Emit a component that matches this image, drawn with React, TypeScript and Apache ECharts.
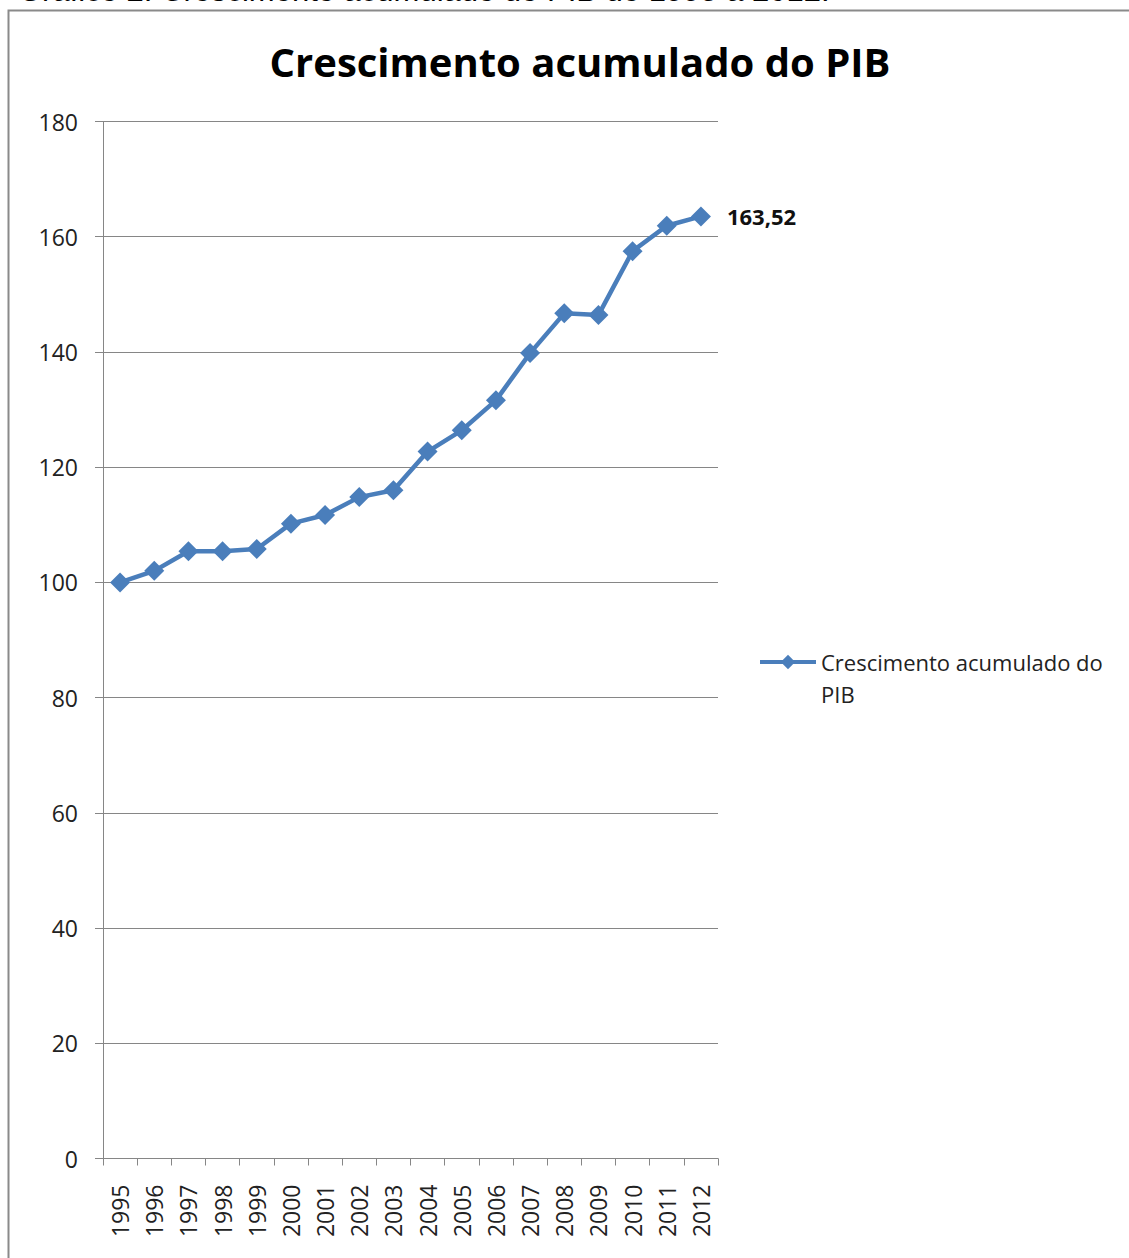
import React, { useEffect, useRef } from "react";
import * as echarts from "echarts";

const years = ["1995","1996","1997","1998","1999","2000","2001","2002","2003","2004","2005","2006","2007","2008","2009","2010","2011","2012"];
const pib = [100, 102.0, 105.4, 105.4, 105.8, 110.2, 111.7, 114.8, 116.0, 122.7, 126.4, 131.6, 139.8, 146.7, 146.4, 157.5, 161.9, 163.52];
const seriesName = "Crescimento acumulado do PIB";
const chartTitle = "Crescimento acumulado do PIB";
const caption = "Gráfico 2: Crescimento acumulado do PIB de 1995 a 2012.";

export default function App() {
  const ref = useRef<HTMLDivElement>(null);
  useEffect(() => {
    if (!ref.current) return;
    const chart = echarts.init(ref.current, null, { renderer: "svg" });
    const lastIdx = pib.length - 1;
    chart.setOption({
      animation: false,
      backgroundColor: "#ffffff",
      title: {
        text: chartTitle,
        left: 575,
        top: 36,
        textAlign: "center",
        textStyle: { fontFamily: "Open Sans", fontSize: 40, fontWeight: "bold", color: "#000" },
      },
      graphic: [
        {
          type: "text",
          x: 18,
          y: 5.5,
          style: {
            text: caption,
            fontFamily: "Liberation Sans",
            fontSize: 31,
            fill: "#000",
            verticalAlign: "bottom",
          },
        },
        {
          type: "rect",
          shape: { x: 8.5, y: 10.5, width: 1200, height: 1300 },
          style: { fill: "none", stroke: "#8a8a8a", lineWidth: 2 },
          z: 10,
        },
      ],
      legend: {
        left: 753,
        top: 609,
        orient: "vertical",
        itemWidth: 56,
        itemHeight: 18,
        itemGap: 0,
        lineStyle: { width: 4, color: "#4a7ebb" },
        itemStyle: { color: "#4a7ebb" },
        formatter: () => "\nCrescimento acumulado do\nPIB",
        textStyle: { fontFamily: "Open Sans", fontSize: 22, color: "#222", lineHeight: 32 },
        data: [seriesName],
      },
      grid: { left: 103, right: 411, top: 121.5, bottom: 99.5, containLabel: false },
      xAxis: {
        type: "category",
        data: years,
        boundaryGap: true,
        axisLine: { lineStyle: { color: "#868686", width: 1 } },
        axisTick: { show: true, alignWithLabel: false, length: 7, lineStyle: { color: "#868686" } },
        axisLabel: {
          rotate: 90,
          interval: 0,
          margin: 26,
          fontFamily: "Open Sans",
          fontSize: 23,
          color: "#222",
        },
        splitLine: { show: false },
      },
      yAxis: {
        type: "value",
        min: 0,
        max: 180,
        interval: 20,
        axisLine: { show: true, lineStyle: { color: "#868686", width: 1 } },
        axisTick: { show: true, inside: false, length: 8, lineStyle: { color: "#868686" } },
        axisLabel: { fontFamily: "Open Sans", fontSize: 23, color: "#222", margin: 25 },
        splitLine: { show: true, lineStyle: { color: "#868686", width: 1 } },
      },
      series: [
        {
          name: seriesName,
          type: "line",
          data: pib.map((v, i) =>
            i === lastIdx
              ? {
                  value: v,
                  label: {
                    show: true,
                    position: "right",
                    distance: 16,
                    formatter: () => String(v).replace(".", ","),
                    fontFamily: "Open Sans",
                    fontWeight: "bold",
                    fontSize: 22,
                    color: "#111",
                  },
                }
              : v
          ),
          symbol: "diamond",
          symbolSize: 20,
          color: "#4a7ebb",
          lineStyle: { width: 4.5, color: "#4a7ebb" },
          itemStyle: { color: "#4a7ebb" },
        },
      ],
    });
    return () => chart.dispose();
  }, []);
  return (
    <div
      ref={ref}
      style={{ position: "fixed", left: 0, top: 0, width: 1129, height: 1258 }}
    />
  );
}
